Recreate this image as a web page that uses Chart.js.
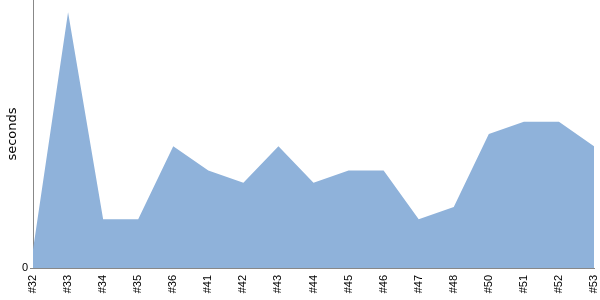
<!DOCTYPE html>
<html>
<head>
<meta charset="utf-8">
<script src="https://cdn.jsdelivr.net/npm/chart.js@4"></script>
<style>
  html, body { margin: 0; padding: 0; background: #fff; }
  #wrap { width: 600px; height: 300px; }
</style>
</head>
<body>
<div id="wrap"><canvas id="chart"></canvas></div>
<script>
const builds = ['#32', '#33', '#34', '#35', '#36', '#41', '#42', '#43', '#44',
                '#45', '#46', '#47', '#48', '#50', '#51', '#52', '#53'];
const seconds = [1.5, 21, 4, 4, 10, 8, 7, 10, 7, 8, 8, 4, 5, 11, 12, 12, 10];
const yMax = 22;

const ctx = document.getElementById('chart').getContext('2d');
const chart = new Chart(ctx, {
    type: 'line',
    data: {
        labels: builds,
        datasets: [{
            label: 'seconds',
            data: seconds,
            fill: 'origin',
            backgroundColor: '#8FB2DA',
            borderColor: '#8FB2DA',
            borderWidth: 0,
            pointRadius: 0,
            tension: 0
        }]
    },
    options: {
        responsive: true,
        maintainAspectRatio: false,
        animation: false,
        layout: {
            padding: { top: 0, right: 6, bottom: 0, left: 0 }
        },
        plugins: {
            legend: { display: false },
            tooltip: { enabled: false }
        },
        scales: {
            x: {
                grid: { display: false, drawTicks: false },
                border: { display: true, color: '#888888', width: 1 },
                ticks: {
                    autoSkip: false,
                    minRotation: 90,
                    maxRotation: 90,
                    padding: 7,
                    color: '#000000',
                    font: { family: 'Liberation Sans', size: 11 }
                },
                afterFit: (scale) => {
                    scale.height = 32;
                    scale.paddingLeft = 0;
                    scale.paddingRight = 0;
                }
            },
            y: {
                min: 0,
                max: yMax,
                grid: {
                    drawOnChartArea: false,
                    tickLength: 3,
                    color: (c) => (c.tick && c.tick.value === 0 ? '#888888' : 'rgba(0,0,0,0)')
                },
                border: { display: true, color: '#888888', width: 1 },
                ticks: {
                    stepSize: yMax,
                    padding: 2,
                    color: '#000000',
                    font: { family: 'Liberation Sans', size: 11 },
                    callback: (v) => (v === 0 ? '0' : '')
                },
                title: {
                    display: true,
                    text: 'seconds',
                    color: '#000000',
                    padding: { top: 5, bottom: 0 },
                    font: { family: 'DejaVu Sans', size: 13 }
                },
                afterFit: (scale) => {
                    scale.width = 33;
                    scale.paddingTop = 0;
                    scale.paddingBottom = 0;
                }
            }
        }
    }
});
</script>
</body>
</html>
